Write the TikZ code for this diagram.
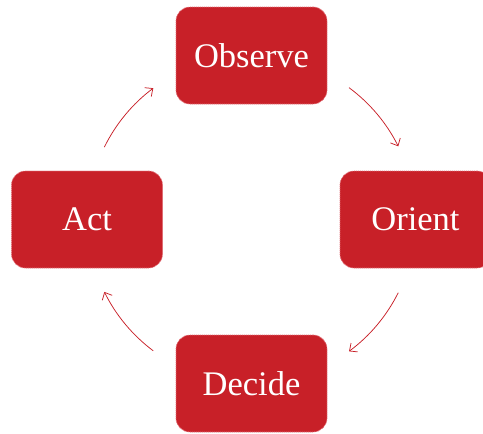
\documentclass[tikz,border=0pt]{standalone}
\usepackage{fontspec}
\setmainfont{Liberation Serif}
\usetikzlibrary{arrows.meta}
\definecolor{oodared}{RGB}{200,32,40}
\definecolor{oodaedge}{RGB}{226,110,118}
\tikzset{
  stagebox/.style={draw=oodaedge, fill=oodared, dash pattern=on 1.2pt off 0.8pt,
    line width=0.7pt, rounded corners=14pt, minimum width=151pt, minimum height=97pt,
    inner sep=0pt, text=white, font=\fontsize{34.5}{38}\selectfont},
  cyclearrow/.style={draw=oodared, line width=0.75pt, -{Straight Barb[length=6pt,width=11pt]}}
}
\begin{document}
\begin{tikzpicture}[x=1pt,y=1pt]
  \useasboundingbox (0,0) rectangle (483,-434);
  \coordinate (hub) at (251.5,-219.5);
  % the four stages of the loop
  \node[stagebox] (observe) at (251.5,-55.5) {Observe};
  \node[stagebox] (orient)  at (415.5,-219.5) {Orient};
  \node[stagebox] (decide)  at (251.5,-383.5) {Decide};
  \node[stagebox] (act)     at (87,-219.5) {Act};
  % curved arrows running clockwise round the loop
  \draw[cyclearrow] ([shift={(153.8:164)}]hub) arc[start angle=153.8, end angle=126.8, radius=164];
  \draw[cyclearrow] ([shift={(53.5:164)}]hub)  arc[start angle=53.5,  end angle=26.5,  radius=164];
  \draw[cyclearrow] ([shift={(-26.5:164)}]hub) arc[start angle=-26.5, end angle=-53.5, radius=164];
  \draw[cyclearrow] ([shift={(-126.8:164)}]hub) arc[start angle=-126.8, end angle=-153.8, radius=164];
\end{tikzpicture}
\end{document}
